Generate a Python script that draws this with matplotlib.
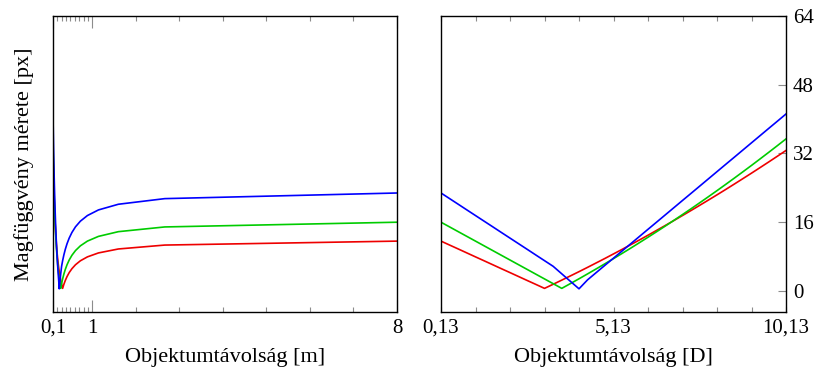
import numpy as np
import matplotlib
matplotlib.use('Agg')
import matplotlib.pyplot as plt
from matplotlib.ticker import FixedLocator, NullFormatter

plt.rcParams['font.family'] = ['Liberation Serif', 'DejaVu Serif']
plt.rcParams['mathtext.fontset'] = 'stix'

# sample grid in dioptres (1/m), 8 m ... ~0.1 m
dioptria = np.arange(0.125, 10.126, 0.25)

# kernel size [px]
kek = [22.80, 21.49, 20.18, 18.86, 17.55, 16.24, 14.93, 13.61, 12.30, 10.99,
       9.68, 8.36, 7.05, 5.74, 3.99, 2.24, 0.50, 2.60, 4.28, 5.96,
       7.63, 9.31, 10.99, 12.67, 14.35, 16.02, 17.70, 19.38, 21.06, 22.73,
       24.41, 26.09, 27.77, 29.45, 31.12, 32.80, 34.48, 36.16, 37.84, 39.51,
       41.19]
zold = [16.00, 14.90, 13.80, 12.70, 11.60, 10.50, 9.40, 8.30, 7.20, 6.10,
        5.00, 3.90, 2.80, 1.70, 0.60, 1.71, 2.83, 3.98, 5.14, 6.32,
        7.52, 8.74, 9.97, 11.23, 12.50, 13.79, 15.10, 16.43, 17.78, 19.14,
        20.53, 21.93, 23.35, 24.79, 26.25, 27.73, 29.22, 30.74, 32.27, 33.82,
        35.39]
piros = [11.60, 10.68, 9.77, 8.85, 7.93, 7.02, 6.10, 5.18, 4.27, 3.35,
         2.43, 1.52, 0.60, 1.55, 2.52, 3.50, 4.49, 5.50, 6.53, 7.56,
         8.62, 9.68, 10.77, 11.86, 12.97, 14.10, 15.23, 16.39, 17.56, 18.74,
         19.94, 21.15, 22.37, 23.61, 24.87, 26.14, 27.42, 28.72, 30.03, 31.36,
         32.70]

tavolsag = 1.0 / dioptria

szinek = {'kek': '#0000ff', 'zold': '#00cc00', 'piros': '#ee0000'}
yticks = [0, 16, 32, 48, 64]
ylim = (-4.9, 64)
fs_tick = 15
fs_label = 16
tick_col = '#8c8c8c'

fig = plt.figure(figsize=(8.16, 3.72), dpi=100)
ax1 = fig.add_axes([53/816, 60/372, 344/816, 296/372])
ax2 = fig.add_axes([441/816, 60/372, 345/816, 296/372])

for ax, x in ((ax1, tavolsag), (ax2, dioptria)):
    ax.plot(x, piros, color=szinek['piros'], lw=1.2)
    ax.plot(x, zold, color=szinek['zold'], lw=1.2)
    ax.plot(x, kek, color=szinek['kek'], lw=1.2)
    ax.set_ylim(*ylim)
    for s in ax.spines.values():
        s.set_linewidth(1.0)
        s.set_zorder(5)
    ax.tick_params(axis='x', which='both', direction='in', top=True, bottom=True,
                   color=tick_col, labelsize=fs_tick, pad=5)
    ax.tick_params(axis='x', which='minor', length=3.6, width=0.8)

# left panel: distance in metres
ax1.set_xlim(1/10.125, 8)
ax1.set_xticks([0.1, 1, 8])
ax1.set_xticklabels(['0,1', '1', '8'])
ax1.tick_params(axis='x', which='major', length=8.5, width=0.8)
ax1.xaxis.set_minor_locator(FixedLocator([0.2, 0.3, 0.4, 0.5, 0.6, 0.7, 0.8, 0.9,
                                          2, 3, 4, 5, 6, 7]))
ax1.xaxis.set_minor_formatter(NullFormatter())
ax1.set_yticks([])
ax1.set_xlabel('Objektumtávolság [m]', fontsize=fs_label, labelpad=7)
ax1.set_ylabel('Magfüggvény mérete [px]', fontsize=fs_label, labelpad=14)

# right panel: dioptres
ax2.set_xlim(0.125, 10.125)
ax2.set_xticks([0.125, 5.125, 10.125])
ax2.set_xticklabels(['0,13', '5,13', '10,13'])
ax2.tick_params(axis='x', which='major', length=3.6, width=0.8)
ax2.xaxis.set_minor_locator(FixedLocator([1.125, 2.125, 3.125, 4.125, 6.125,
                                          7.125, 8.125, 9.125]))
ax2.xaxis.set_minor_formatter(NullFormatter())
ax2.yaxis.tick_right()
ax2.set_yticks(yticks)
ax2.tick_params(axis='y', which='major', direction='in', left=False, right=True,
                length=6, width=0.8, color=tick_col, labelsize=fs_tick, pad=5)
ax2.set_xlabel('Objektumtávolság [D]', fontsize=fs_label, labelpad=7)

fig.savefig('out.png', dpi=100)
